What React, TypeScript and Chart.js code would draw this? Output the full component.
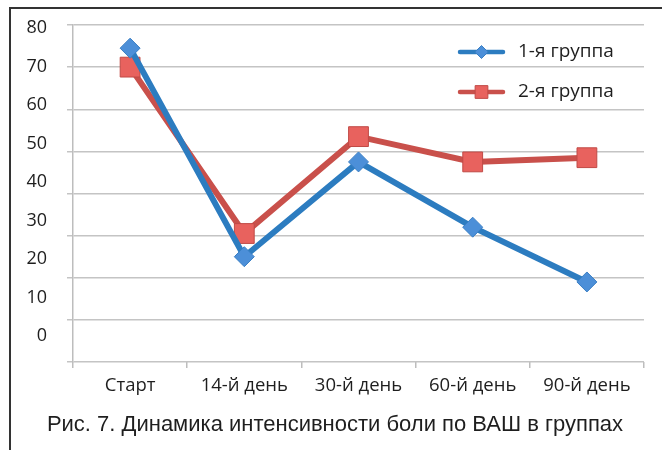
import React, { useEffect, useRef } from "react";
import { Chart, registerables } from "chart.js";

Chart.register(...registerables);

const categories = ["Старт", "14-й день", "30-й день", "60-й день", "90-й день"];
const group1 = [74.5, 25, 47.5, 32, 19];
const group2 = [70, 30.5, 53.5, 47.5, 48.5];
const seriesNames = ["1-я группа", "2-я группа"];
const yTickLabels = [0, 10, 20, 30, 40, 50, 60, 70, 80];
const caption = "Рис. 7. Динамика интенсивности боли по ВАШ в группах";

const BLUE_LINE = "#2c7cc0";
const BLUE_FILL = "#4c8fd8";
const RED_LINE = "#c9504b";
const RED_FILL = "#e8625e";
const FONT = "'Open Sans', 'DejaVu Sans', sans-serif";

function drawMarker(ctx: CanvasRenderingContext2D, style: string, x: number, y: number, r: number, fill: string, stroke: string) {
  ctx.save();
  ctx.beginPath();
  if (style === "rectRot") {
    ctx.moveTo(x, y - r);
    ctx.lineTo(x + r, y);
    ctx.lineTo(x, y + r);
    ctx.lineTo(x - r, y);
    ctx.closePath();
  } else {
    const s = r * Math.SQRT1_2;
    ctx.rect(x - s, y - s, 2 * s, 2 * s);
  }
  ctx.fillStyle = fill;
  ctx.fill();
  ctx.lineWidth = 1;
  ctx.strokeStyle = stroke;
  ctx.stroke();
  ctx.restore();
}

const insideLegend = {
  id: "insideLegend",
  afterDatasetsDraw(chart: any) {
    const ctx = chart.ctx as CanvasRenderingContext2D;
    const items = chart.data.datasets;
    const x0 = 460;
    const x1 = 503;
    items.forEach((ds: any, i: number) => {
      const y = 52 + i * 40;
      ctx.save();
      ctx.strokeStyle = ds.borderColor;
      ctx.lineWidth = 4.5;
      ctx.lineCap = "round";
      ctx.beginPath();
      ctx.moveTo(x0, y);
      ctx.lineTo(x1, y);
      ctx.stroke();
      ctx.restore();
      drawMarker(ctx, ds.pointStyle, (x0 + x1) / 2, y, ds.pointStyle === "rectRot" ? 6.5 : 9, ds.pointBackgroundColor, ds.pointBorderColor);
      ctx.save();
      ctx.fillStyle = "#1e1e1e";
      ctx.font = `19px ${FONT}`;
      ctx.textBaseline = "middle";
      ctx.textAlign = "left";
      ctx.fillText(ds.label, 518, y);
      ctx.restore();
    });
  },
};

export default function App() {
  const canvasRef = useRef<HTMLCanvasElement | null>(null);

  useEffect(() => {
    if (!canvasRef.current) return;
    const chart = new Chart(canvasRef.current, {
      type: "line",
      data: {
        labels: categories,
        datasets: [
          {
            label: seriesNames[0],
            data: group1,
            yAxisID: "y",
            borderColor: BLUE_LINE,
            borderWidth: 6,
            pointStyle: "rectRot",
            pointRadius: 10,
            pointBackgroundColor: BLUE_FILL,
            pointBorderColor: "#3a7fc4",
            pointBorderWidth: 1,
            tension: 0,
          } as any,
          {
            label: seriesNames[1],
            data: group2,
            yAxisID: "y",
            borderColor: RED_LINE,
            borderWidth: 6,
            pointStyle: "rect",
            pointRadius: 14,
            pointBackgroundColor: RED_FILL,
            pointBorderColor: "#c04a46",
            pointBorderWidth: 1,
            tension: 0,
          } as any,
        ],
      },
      options: {
        animation: false,
        responsive: false,
        maintainAspectRatio: false,
        layout: { padding: { left: 0, right: 18, top: 25, bottom: 0 } },
        plugins: {
          legend: { display: false },
          tooltip: { enabled: false },
          title: { display: false },
        },
        scales: {
          x: {
            type: "category",
            offset: true,
            grid: {
              offset: true,
              drawOnChartArea: false,
              tickLength: 6,
              color: "#bdbdbd",
              lineWidth: 1.5,
            },
            border: { display: false },
            ticks: {
              color: "#1e1e1e",
              font: { family: FONT, size: 18.5 },
              padding: 7,
              maxRotation: 0,
            },
            afterFit(scale: any) {
              scale.height = 88;
            },
          },
          y: {
            type: "linear",
            position: "left",
            weight: 0,
            min: 0,
            max: 80,
            ticks: { display: false, stepSize: 10 },
            grid: { color: "#c4c4c4", lineWidth: 1.5, tickLength: 6 },
            border: { display: true, color: "#bdbdbd", width: 1.5 },
            afterFit(scale: any) {
              scale.width = 6;
            },
          },
          yl: {
            type: "linear",
            position: "left",
            weight: 1,
            display: true,
            bounds: "data",
            min: -6.75,
            max: 80.78,
            grid: { display: false },
            border: { display: false },
            ticks: {
              color: "#1e1e1e",
              font: { family: FONT, size: 18 },
              padding: 12,
            },
            afterBuildTicks(scale: any) {
              scale.ticks = yTickLabels.map((v) => ({ value: v }));
            },
            afterFit(scale: any) {
              scale.width = 67;
            },
          },
        } as any,
      },
      plugins: [insideLegend],
    });
    return () => chart.destroy();
  }, []);

  return (
    <div style={{ position: "absolute", left: 0, top: 0, width: 662, height: 450, background: "#fff", overflow: "hidden" }}>
      <div
        style={{
          position: "absolute",
          left: 9,
          top: 7,
          width: 700,
          height: 500,
          borderTop: "2px solid #333",
          borderLeft: "2px solid #333",
          boxSizing: "border-box",
        }}
      />
      <canvas ref={canvasRef} width={662} height={450} style={{ position: "absolute", left: 0, top: 0 }} />
      <div
        style={{
          position: "absolute",
          left: 35,
          width: 600,
          top: 411,
          textAlign: "center",
          fontFamily: "'Liberation Sans', Arial, sans-serif",
          fontSize: 22,
          color: "#1e1e1e",
          whiteSpace: "nowrap",
          lineHeight: "26px",
        }}
      >
        {caption}
      </div>
    </div>
  );
}
